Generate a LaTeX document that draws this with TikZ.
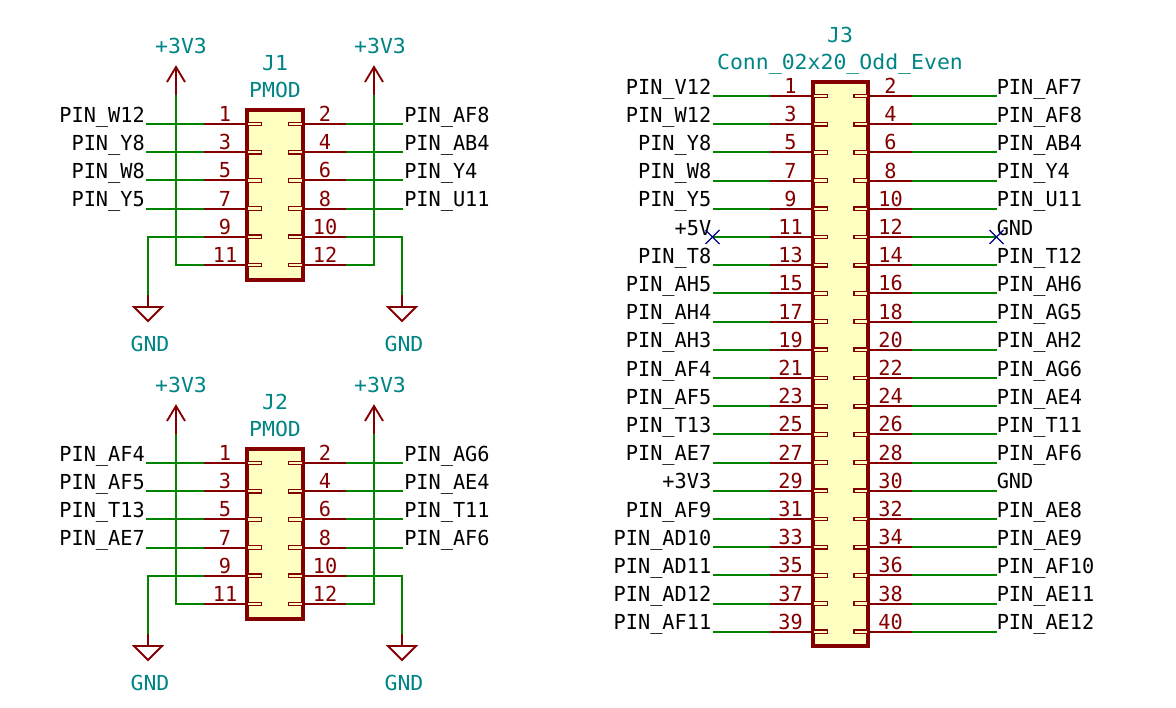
\documentclass[tikz,border=0pt]{standalone}
\usepackage{fontspec}
\newfontfamily\schfont[FakeStretch=0.98]{DejaVu Sans Mono}
\newfontfamily\reffont[FakeStretch=1.04]{DejaVu Sans Mono}
\definecolor{pinred}{HTML}{840000}
\definecolor{wiregreen}{HTML}{008400}
\definecolor{reftext}{HTML}{008484}
\definecolor{bodyfill}{HTML}{FFFFC2}
\definecolor{ncblue}{HTML}{000084}
\newcommand{\headerrows}[4]{
  \foreach \k in {1,...,#4}{
    \pgfmathsetmacro{\y}{#3+28.2*(\k-1)}
    \pgfmathtruncatemacro{\pl}{2*\k-1}
    \pgfmathtruncatemacro{\pr}{2*\k}
    \coordinate (#1-\pl) at (#2-28,\y);
    \coordinate (#1-\pr) at (#2+28,\y);
    \coordinate (#1-\pl-end) at (#2-71,\y);
    \coordinate (#1-\pr-end) at (#2+71,\y);
    \node[pinhead,anchor=west] (#1-h\pl) at (#1-\pl) {};
    \node[pinhead,anchor=east] (#1-h\pr) at (#1-\pr) {};
    \draw[pinline] (#1-\pl) -- (#1-\pl-end);
    \draw[pinline] (#1-\pr) -- (#1-\pr-end);
    \node[pinnum] (#1-n\pl) at (#2-50,\y-2.5) {\pl};
    \node[pinnum] (#1-n\pr) at (#2+50,\y-2.5) {\pr};
  }
}
\newcommand{\pmodpart}[4]{
  \begin{scope}[shift={(0,#2)}]
    \node[body,minimum width=42pt,minimum height=127.5pt] (#1) at (275,195) {};
    \node[partref] (#1ref) at (275,70) {#1};
    \node[partref] (#1val) at (275,97) {PMOD};
    \headerrows{#1}{275}{124}{6}
    \foreach \n/\lab in {#3}{
      \draw[wire] (#1-\n-end) -- ++(-58,0) coordinate (#1w\n);
      \path (#1w\n) ++(-1,-2) node[netleft] (#1l\n) {\lab};
    }
    \foreach \n/\lab in {#4}{
      \draw[wire] (#1-\n-end) -- ++(57,0) coordinate (#1w\n);
      \path (#1w\n) ++(1,-2) node[netright] (#1l\n) {\lab};
    }
    \draw[wire] (#1-11-end) -| (176,95) coordinate (#1pl);
    \draw[wire] (#1-12-end) -| (374,95) coordinate (#1pr);
    \draw[wire] (#1-9-end) -| (148,295) coordinate (#1gl);
    \draw[wire] (#1-10-end) -| (402,295) coordinate (#1gr);
    \foreach \p in {pl,pr}{
      \draw[pinline] (#1\p) -- ++(0,-28) coordinate (#1\p tip);
      \draw[pinline] (#1\p tip) ++(-9,15) -- (#1\p tip) -- ++(9,15);
    }
    \foreach \g in {gl,gr}{
      \draw[pinline] (#1\g) -- ++(0,12) coordinate (#1\g top);
      \draw[pinline] (#1\g top) ++(-14,0) -- ++(28,0) -- ++(-14,14) -- cycle;
    }
    \node[partref] (#1pwra) at (181,53) {+3V3};
    \node[partref] (#1pwrb) at (380,53) {+3V3};
    \node[partref] (#1gnda) at (150,351) {GND};
    \node[partref] (#1gndb) at (404,351) {GND};
  \end{scope}
}
\begin{document}
\begin{tikzpicture}[
  x=0.75pt,y=-0.75pt,
  every node/.style={font=\schfont\fontsize{15.5}{16}\selectfont,inner sep=0pt},
  wire/.style={draw=wiregreen,line width=1.4pt},
  pinline/.style={draw=pinred,line width=1.4pt},
  body/.style={draw=pinred,fill=bodyfill,line width=2.3pt},
  pinhead/.style={draw=pinred,fill=bodyfill,line width=0.9pt,minimum width=10.5pt,minimum height=2.6pt},
  pinnum/.style={text=pinred,anchor=base},
  partref/.style={text=reftext,anchor=base,font=\reffont\fontsize{15.5}{16}\selectfont},
  netleft/.style={text=black,anchor=base east},
  netright/.style={text=black,anchor=base west},
  nomark/.style={draw=ncblue,line width=1pt}
]
  \useasboundingbox (0,0) rectangle (1176,707);

  \pmodpart{J1}{0}{1/PIN\_W12,3/PIN\_Y8,5/PIN\_W8,7/PIN\_Y5}{2/PIN\_AF8,4/PIN\_AB4,6/PIN\_Y4,8/PIN\_U11}
  \pmodpart{J2}{339}{1/PIN\_AF4,3/PIN\_AF5,5/PIN\_T13,7/PIN\_AE7}{2/PIN\_AG6,4/PIN\_AE4,6/PIN\_T11,8/PIN\_AF6}

  \node[body,minimum width=41.25pt,minimum height=423pt] (J3) at (840.5,364) {};
  \node[partref] (J3ref) at (840,42) {J3};
  \node[partref] (J3val) at (840,69) {Conn\_02x20\_Odd\_Even};
  \headerrows{J3}{840.5}{96}{20}

  \foreach \n/\lab in {1/PIN\_V12,3/PIN\_W12,5/PIN\_Y8,7/PIN\_W8,9/PIN\_Y5,11/+5V,13/PIN\_T8,
      15/PIN\_AH5,17/PIN\_AH4,19/PIN\_AH3,21/PIN\_AF4,23/PIN\_AF5,25/PIN\_T13,27/PIN\_AE7,
      29/+3V3,31/PIN\_AF9,33/PIN\_AD10,35/PIN\_AD11,37/PIN\_AD12,39/PIN\_AF11}{
    \draw[wire] (J3-\n-end) -- ++(-57,0) coordinate (J3w\n);
    \path (J3w\n) ++(-1,-2) node[netleft] (J3l\n) {\lab};
  }
  \foreach \n/\lab in {2/PIN\_AF7,4/PIN\_AF8,6/PIN\_AB4,8/PIN\_Y4,10/PIN\_U11,12/GND,14/PIN\_T12,
      16/PIN\_AH6,18/PIN\_AG5,20/PIN\_AH2,22/PIN\_AG6,24/PIN\_AE4,26/PIN\_T11,28/PIN\_AF6,
      30/GND,32/PIN\_AE8,34/PIN\_AE9,36/PIN\_AF10,38/PIN\_AE11,40/PIN\_AE12}{
    \draw[wire] (J3-\n-end) -- ++(85,0) coordinate (J3w\n);
    \path (J3w\n) ++(0,-2) node[netright] (J3l\n) {\lab};
  }
  \draw[nomark] (J3w11) +(-7,-7) -- +(7,7) +(-7,7) -- +(7,-7);
  \draw[nomark] (J3w12) +(-7,-7) -- +(7,7) +(-7,7) -- +(7,-7);
\end{tikzpicture}
\end{document}
